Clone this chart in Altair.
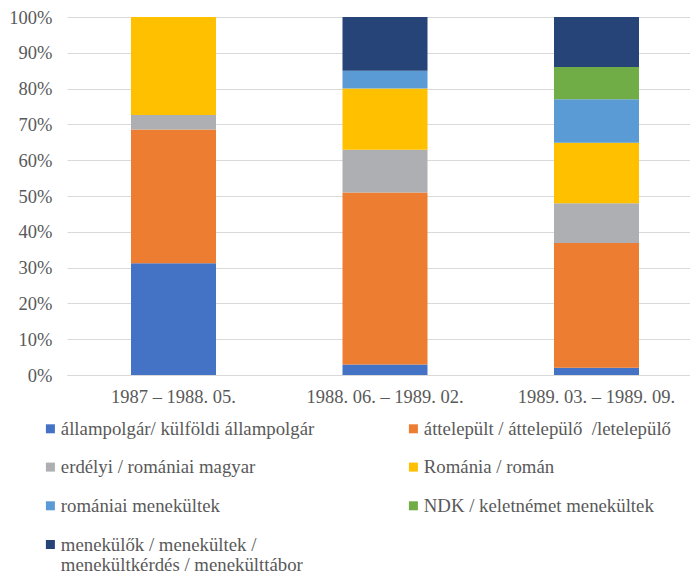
import altair as alt
import pandas as pd

periods = ["1987 – 1988. 05.", "1988. 06. – 1989. 02.", "1989. 03. – 1989. 09."]
series = [
    "állampolgár/ külföldi állampolgár",
    "áttelepült / áttelepülő \u00a0/letelepülő",
    "erdélyi / romániai magyar",
    "Románia / román",
    "romániai menekültek",
    "NDK / keletnémet menekültek",
    "menekülők / menekültek /\nmenekültkérdés / menekülttábor",
]
colors = ["#4472C4", "#ED7D31", "#AEAFB2", "#FFC000", "#5B9BD5", "#70AD47", "#264478"]

allampolgar = [31.2, 2.9, 2.0]
attelepult = [37.4, 48.1, 34.9]
erdelyi = [4.0, 11.9, 11.1]
romania = [27.4, 17.1, 16.9]
romaniai_menekultek = [0.0, 5.0, 12.1]
ndk = [0.0, 0.0, 9.0]
menekulok = [0.0, 15.0, 14.0]

values = [allampolgar, attelepult, erdelyi, romania, romaniai_menekultek, ndk, menekulok]

rows = []
for si, (name, vals) in enumerate(zip(series, values)):
    for p, v in zip(periods, vals):
        rows.append({"period": p, "series": name, "idx": si, "value": v})
df = pd.DataFrame(rows)

FONT = "Liberation Serif"
TXT = "#595959"
GRID = "#D9D9D9"

chart = alt.Chart(df).mark_bar(width=85).encode(
    x=alt.X("period:N", sort=periods, title=None,
            scale=alt.Scale(paddingInner=0.598, paddingOuter=0.3026, range=[0, 636]),
            axis=alt.Axis(labelAngle=0, labelFontSize=18.5, labelColor=TXT, labelFont=FONT,
                          domainColor=GRID, ticks=False, labelPadding=12, labelLimit=300)),
    y=alt.Y("value:Q", stack="normalize", title=None,
            scale=alt.Scale(domain=[0, 1], nice=False),
            axis=alt.Axis(values=[i / 10 for i in range(11)], format=".0%", grid=True,
                          gridColor=GRID, gridWidth=1, domain=False, ticks=False,
                          labelPadding=15, labelFontSize=18.5, labelColor=TXT, labelFont=FONT)),
    color=alt.Color("series:N", scale=alt.Scale(domain=series, range=colors),
                    legend=alt.Legend(orient="none", legendX=-26, legendY=402, columns=2,
                                      direction="horizontal",
                                      columnPadding=89, rowPadding=18.7, symbolType="square",
                                      symbolSize=81, symbolStrokeWidth=0, labelFontSize=18.8,
                                      labelColor=TXT, labelFont=FONT, title=None,
                                      labelExpr="split(datum.label, '\\n')", labelOffset=1,
                                      labelLimit=400, padding=0, gridAlign="each")),
    order=alt.Order("idx:Q", sort="ascending"),
).properties(
    width=623, height=358,
    autosize=alt.AutoSizeParams(type="none"),
    padding={"left": 59, "top": 9, "right": 0, "bottom": 200},
).configure(font=FONT).configure_view(stroke=None).configure_axis(
    labelFont=FONT).configure_legend(labelFont=FONT)

chart.save("out.html", embed_options={"renderer": "svg", "actions": False})
